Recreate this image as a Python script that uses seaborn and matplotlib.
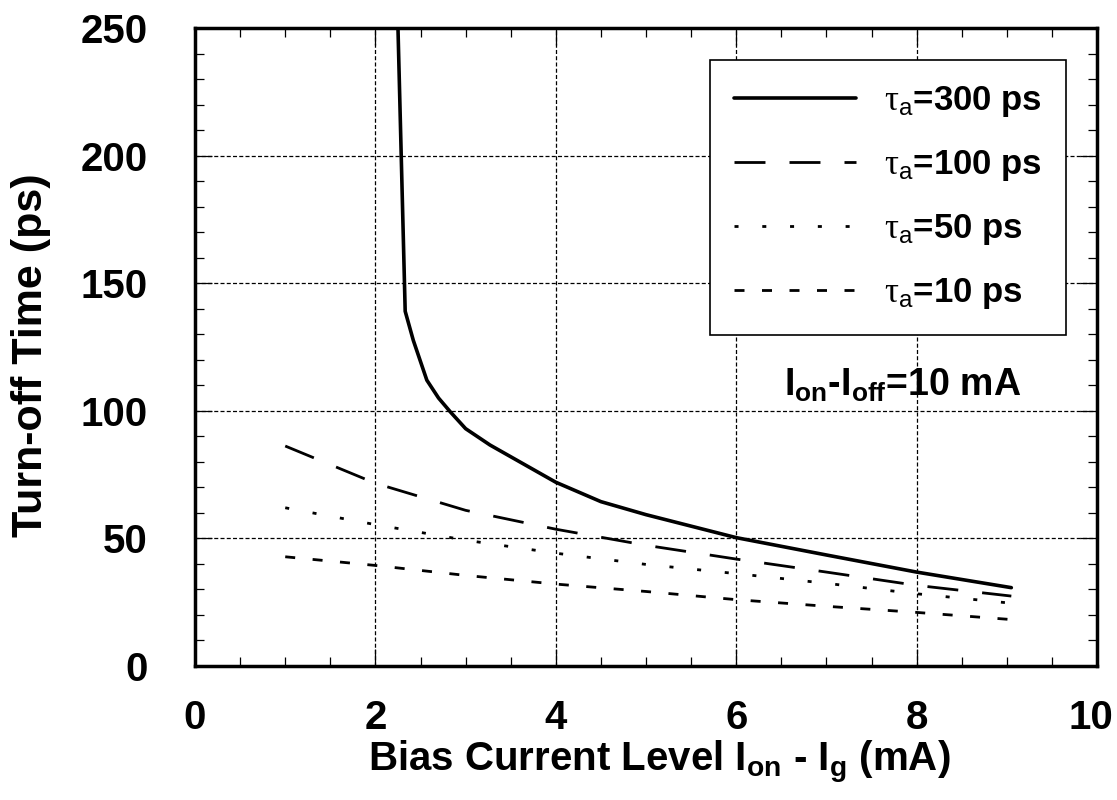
import matplotlib
matplotlib.use("Agg")
import matplotlib.pyplot as plt
import matplotlib.transforms as mtransforms
from matplotlib.ticker import MultipleLocator
import numpy as np
import pandas as pd
import seaborn as sns

# Turn-off time versus bias current for several absorber recovery times
x_300 = [2.25, 2.33, 2.42, 2.57, 2.7, 2.83, 3.0, 3.27, 4.0, 4.5, 5.0, 6.0, 7.0, 8.0, 9.05]
t_300 = [250, 139, 127.6, 112, 105, 99.6, 93, 86.6, 72, 64.4, 59.3, 50.3, 43.5, 36.8, 30.7]

x_bias = [1.0, 2.0, 3.0, 4.0, 5.0, 6.0, 7.0, 8.0, 9.05]
t_100 = [86.2, 71.6, 61.0, 53.6, 47.3, 41.9, 36.8, 31.6, 27.4]
t_50 = [62.0, 55.4, 49.3, 44.2, 39.8, 36.2, 32.4, 28.3, 24.6]
t_10 = [42.8, 39.4, 35.5, 32.1, 29.2, 26.0, 23.4, 21.0, 18.2]

series_labels = [r"$\mathrm{\tau}_{\mathsf{a}}$=300 ps",
                 r"$\mathrm{\tau}_{\mathsf{a}}$=100 ps",
                 r"$\mathrm{\tau}_{\mathsf{a}}$=50 ps",
                 r"$\mathrm{\tau}_{\mathsf{a}}$=10 ps"]

x_ticks = [0, 2, 4, 6, 8, 10]
y_ticks = [0, 50, 100, 150, 200, 250]

sns.set_theme(style="ticks")
plt.rcParams["font.family"] = ["Liberation Sans", "DejaVu Sans"]
plt.rcParams["mathtext.fontset"] = "custom"
plt.rcParams["mathtext.rm"] = "Liberation Serif:normal"
plt.rcParams["mathtext.sf"] = "Liberation Sans:normal"
plt.rcParams["mathtext.bf"] = "Liberation Sans:bold"
plt.rcParams["mathtext.it"] = "Liberation Sans:italic"
plt.rcParams["lines.scale_dashes"] = False
for key in ["text.color", "axes.labelcolor", "xtick.color", "ytick.color",
            "xtick.labelcolor", "ytick.labelcolor", "axes.edgecolor"]:
    plt.rcParams[key] = "black"

fig = plt.figure(figsize=(11.17, 8), dpi=100)
ax = fig.add_axes([0.1746, 0.1675, 0.8075, 0.7975])

styles = [
    dict(linestyle="-", linewidth=2.6),
    dict(linestyle=(0, (22.3, 17.3)), linewidth=2.0),
    dict(linestyle=(0, (2.9, 17.1)), linewidth=2.0),
    dict(linestyle=(0, (7.2, 12.6)), linewidth=2.0),
]
data = [(x_300, t_300), (x_bias, t_100), (x_bias, t_50), (x_bias, t_10)]

for (xs, ys), lab, st in zip(data, series_labels, styles):
    df = pd.DataFrame({"bias": xs, "toff": ys})
    sns.lineplot(data=df, x="bias", y="toff", ax=ax, color="black",
                 estimator=None, sort=False, label=lab, **st)

ax.set_xlim(0, 10)
ax.set_ylim(0, 250)
ax.set_xticks(x_ticks)
ax.set_yticks(y_ticks)
ax.xaxis.set_minor_locator(MultipleLocator(0.5))
ax.yaxis.set_minor_locator(MultipleLocator(10))

ax.grid(True, which="major", color="black", linestyle=(0, (2.9, 1.6)), linewidth=0.9)

for sp in ax.spines.values():
    sp.set_visible(True)
    sp.set_linewidth(2.5)
    sp.set_color("black")

ax.tick_params(which="both", direction="in", top=True, right=True, color="black",
               labelcolor="black")
ax.tick_params(which="major", length=12, width=0.9)
ax.tick_params(which="minor", length=6.5, width=0.9)
ax.tick_params(axis="x", which="major", labelsize=29, pad=24)
ax.tick_params(axis="y", which="major", labelsize=29, pad=34)
for lab in ax.get_xticklabels() + ax.get_yticklabels():
    lab.set_fontweight("bold")

# pull the last x tick label slightly inward so it stays on the canvas
last = ax.get_xticklabels()[-1]
last.set_transform(last.get_transform()
                   + mtransforms.ScaledTranslation(-0.06, 0, fig.dpi_scale_trans))

ax.set_xlabel(r"Bias Current Level $\mathbf{I_{on}}$ - $\mathbf{I_{g}}$ (mA)",
              fontsize=29, fontweight="bold", color="black")
ax.set_ylabel("Turn-off Time (ps)", fontsize=31, fontweight="bold", color="black")
ax.xaxis.set_label_coords(0.515, -0.115)
ax.yaxis.set_label_coords(-0.16, 0.487)

ax.text(7.85, 106, r"$\mathbf{I_{on}}$-$\mathbf{I_{off}}$=10 mA",
        fontsize=27, fontweight="bold", ha="center", va="baseline", color="black")

leg = ax.legend(loc="upper right", bbox_to_anchor=(0.9656, 0.95), borderaxespad=0,
                prop={"weight": "bold", "size": 25}, handlelength=3.5,
                handletextpad=0.8, borderpad=0.7, labelspacing=0.83,
                fancybox=False, framealpha=1, edgecolor="black")
leg.get_frame().set_linewidth(1.2)
for t in leg.get_texts():
    t.set_color("black")

fig.savefig("out.png", dpi=100, facecolor="white")
